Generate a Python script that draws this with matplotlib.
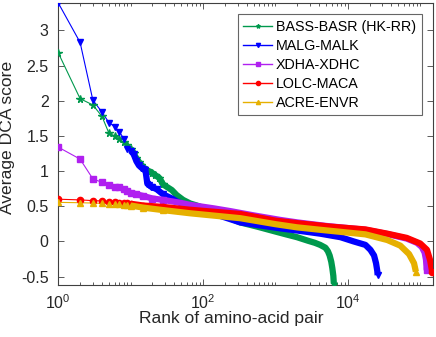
import matplotlib
matplotlib.use("Agg")
import matplotlib.pyplot as plt
from matplotlib.ticker import LogLocator, FixedLocator, NullFormatter
from matplotlib.lines import Line2D

plt.rcParams['font.family'] = ['Liberation Sans', 'DejaVu Sans']
plt.rcParams['mathtext.fontset'] = 'custom'
plt.rcParams['mathtext.rm'] = 'Liberation Sans'
plt.rcParams['mathtext.it'] = 'Liberation Sans:italic'

# ---------------- data ----------------
labels = ["BASS-BASR (HK-RR)", "MALG-MALK", "XDHA-XDHC", "LOLC-MACA", "ACRE-ENVR"]
colors = ["#00994D", "#0000FF", "#B020F0", "#FF0000", "#E6B000"]
markers = ["*", "v", "s", "o", "^"]

green_rank = [1, 2, 3, 4, 5, 6, 7, 8, 9, 10, 11, 12, 13, 14, 15, 17, 20, 22, 25, 28,
              37, 43, 53, 66, 82, 125, 190, 326, 560, 1000, 1400, 1980,
              2800, 3500, 4150, 4900, 5300, 5600, 5900, 6100, 6300, 6400]
green_val = [2.68, 2.03, 1.94, 1.78, 1.54, 1.50, 1.45, 1.41, 1.37, 1.32, 1.25, 1.18, 1.13,
             1.09, 1.05, 1.01, 0.97, 0.94, 0.90, 0.81, 0.73, 0.66, 0.59, 0.54, 0.51, 0.44,
             0.37, 0.27, 0.21, 0.14, 0.10, 0.06, 0.01, -0.02, -0.05, -0.09, -0.14, -0.20,
             -0.29, -0.38, -0.49, -0.60]

blue_rank = [1, 2, 3, 4, 5, 6, 7, 8, 9, 10, 11, 12, 13, 14, 15, 16, 17, 18, 19, 20,
             23, 28, 37, 43, 66, 125, 326, 685, 1170, 1980, 4150, 7900, 12000, 17500,
             20500, 23000, 24500, 25500, 25800]
blue_val = [3.39, 2.83, 2.01, 1.84, 1.69, 1.63, 1.56, 1.46, 1.31, 1.29, 1.24, 1.14, 1.08,
            1.05, 1.03, 1.01, 0.82, 0.80, 0.78, 0.77, 0.74, 0.67, 0.61, 0.57, 0.49, 0.41,
            0.27, 0.22, 0.185, 0.155, 0.11, 0.06, 0.0, -0.05, -0.12, -0.20, -0.31, -0.42,
            -0.48]

purple_rank = [1, 2, 3, 4, 5, 6, 7, 8, 9, 10, 12, 15, 20, 28, 48, 66, 140, 240, 500,
               1170, 2000, 5000, 17500, 35000, 65000, 90000, 105000, 115000, 120000, 123000]
purple_val = [1.34, 1.17, 0.89, 0.84, 0.80, 0.78, 0.77, 0.74, 0.71, 0.69, 0.67, 0.645,
              0.61, 0.59, 0.55, 0.52, 0.47, 0.43, 0.37, 0.305, 0.27, 0.22, 0.165, 0.105,
              0.04, -0.02, -0.08, -0.16, -0.26, -0.41]

red_rank = [1, 2, 3, 4, 5, 6, 7, 8, 9, 10, 15, 28, 66, 326, 1000, 1980, 5700, 17500,
            35000, 65000, 100000, 124000, 137000, 146000]
red_val = [0.60, 0.59, 0.58, 0.575, 0.565, 0.555, 0.55, 0.545, 0.54, 0.535, 0.51, 0.49,
           0.45, 0.39, 0.295, 0.26, 0.21, 0.17, 0.11, 0.05, -0.03, -0.12, -0.27, -0.43]

yellow_rank = [1, 2, 3, 4, 5, 6, 7, 8, 9, 10, 15, 28, 66, 326, 1000, 1980, 4150, 17500,
               35000, 53000, 70000, 82000, 87000]
yellow_val = [0.555, 0.55, 0.545, 0.54, 0.535, 0.53, 0.525, 0.52, 0.515, 0.51, 0.48,
              0.445, 0.40, 0.33, 0.245, 0.20, 0.165, 0.10, 0.02, -0.06, -0.18, -0.31, -0.43]

series = [(green_rank, green_val), (blue_rank, blue_val), (purple_rank, purple_val),
          (red_rank, red_val), (yellow_rank, yellow_val)]

y_ticks = [-0.5, 0, 0.5, 1, 1.5, 2, 2.5, 3]
y_ticklabels = ['-0.5', '0', '0.5', '1', '1.5', '2', '2.5', '3']
x_ticks = [1, 100, 10000]
x_ticklabels = [r'$\mathdefault{10^{0}}$', r'$\mathdefault{10^{2}}$', r'$\mathdefault{10^{4}}$']
x_limits = (1, 150000)
y_limits = (-0.62, 3.39)

# ---------------- figure ----------------
fig = plt.figure(figsize=(4.36, 3.37), dpi=100)
ax = fig.add_axes([58.3 / 436, 1 - 285 / 337, (433 - 58.3) / 436, (285 - 3) / 337])

dense_start = 10
for (r, v), c, m in zip(series, colors, markers):
    ax.plot(r, v, color=c, lw=0.8, zorder=2)
    idx = [i for i, rr in enumerate(r) if rr <= 30]
    ax.plot([r[i] for i in idx], [v[i] for i in idx], ls='none', marker=m,
            ms=4.5 if m != '*' else 5.5, color=c, mec=c, mew=1.0, zorder=3)
    idx2 = [i for i, rr in enumerate(r) if rr >= dense_start]
    ax.plot([r[i] for i in idx2], [v[i] for i in idx2], color=c, lw=4.5,
            solid_capstyle='butt', zorder=3)
    ax.plot([r[-1]], [v[-1]], ls='none', marker=m, ms=4.5, color=c, zorder=3)

ax.set_xscale('log')
ax.set_xlim(*x_limits)
ax.set_ylim(*y_limits)
ax.xaxis.set_major_locator(FixedLocator(x_ticks))
ax.xaxis.set_minor_locator(LogLocator(base=10, subs=range(1, 10), numticks=20))
ax.xaxis.set_minor_formatter(NullFormatter())
ax.set_xticks(x_ticks)
ax.set_xticklabels(x_ticklabels)
ax.set_yticks(y_ticks)
ax.set_yticklabels(y_ticklabels)

for sp in ax.spines.values():
    sp.set_color('#404040')
    sp.set_linewidth(0.8)
ax.tick_params(which='both', direction='in', top=True, right=True, colors='#404040',
               labelcolor='#262626', labelsize=11.5, width=0.6)
ax.tick_params(which='major', length=4)
ax.tick_params(which='minor', length=2.5)
ax.tick_params(axis='x', pad=6)
ax.tick_params(axis='y', pad=7)

ax.set_xlabel('Rank of amino-acid pair', fontsize=12.6, color='#262626')
ax.set_ylabel('Average DCA score', fontsize=12.6, color='#262626')
ax.xaxis.set_label_coords((231 - 58.3) / (433 - 58.3), -(318 - 285) / 282 , transform=ax.transAxes)
ax.yaxis.set_label_coords(-(58.3 - 8) / (433 - 58.3), (285 - 137) / 282, transform=ax.transAxes)
ax.xaxis.label.set_va('center')
ax.yaxis.label.set_va('center')

handles = [Line2D([], [], color=c, marker=m, ms=3, lw=1.0) for c, m in zip(colors, markers)]
leg = ax.legend(handles, labels, loc='upper right', bbox_to_anchor=(422 / 436, 1 - 14 / 337),
                bbox_transform=fig.transFigure, fontsize=10.3, frameon=True, fancybox=False,
                handlelength=2.0, handletextpad=0.3, borderpad=0.4, labelspacing=0.35,
                borderaxespad=0)
leg.get_frame().set_edgecolor('#404040')
leg.get_frame().set_linewidth(0.8)

fig.savefig('out.png', dpi=100)
